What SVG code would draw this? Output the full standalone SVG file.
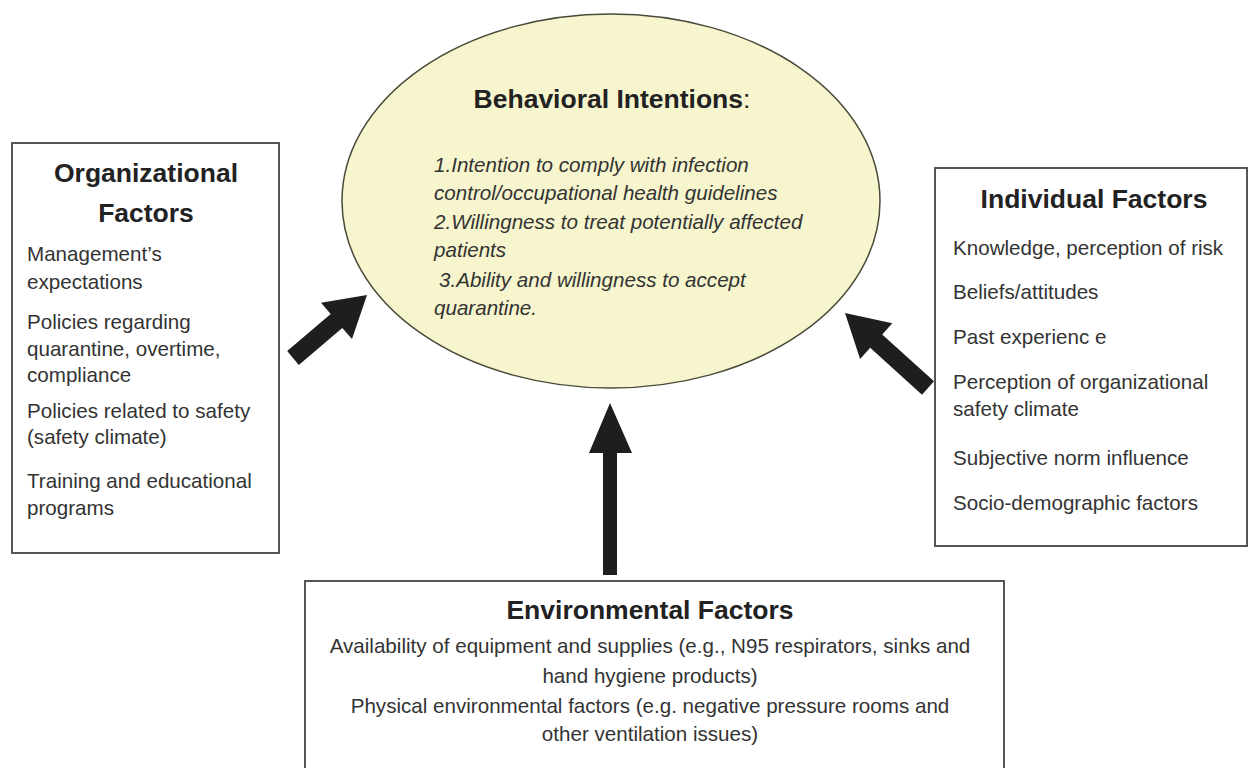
<svg xmlns="http://www.w3.org/2000/svg" width="1248" height="768" viewBox="0 0 1248 768">
<style>
.box{fill:#fff;stroke:#555;stroke-width:2}
.ell{fill:#f7f5cd;stroke:#4a4a3a;stroke-width:1.5}
.h{font-family:"Liberation Sans",Arial,sans-serif;font-weight:bold;font-size:26.5px;fill:#222}
.t{font-family:"Liberation Sans",Arial,sans-serif;font-size:20.6px;fill:#333}
.i{font-family:"Liberation Sans",Arial,sans-serif;font-size:20.6px;font-style:italic;fill:#333}
.arr{fill:#1e1e1e}
</style>
<rect width="1248" height="768" fill="#fff"/>
<g id="behavioral-intentions">
<ellipse class="ell" cx="611" cy="201" rx="269" ry="187"/>
<text class="h" x="612" y="108" text-anchor="middle">Behavioral Intentions<tspan font-weight="normal">:</tspan></text>
<text class="i" x="434" y="172">1.Intention to comply with infection</text>
<text class="i" x="434" y="200">control/occupational health guidelines</text>
<text class="i" x="434" y="229">2.Willingness to treat potentially affected</text>
<text class="i" x="434" y="257">patients</text>
<text class="i" x="439" y="287">3.Ability and willingness to accept</text>
<text class="i" x="434" y="315">quarantine.</text>
</g>
<g id="organizational-factors">
<rect class="box" x="12" y="143" width="267" height="410"/>
<text class="h" x="146" y="182" text-anchor="middle">Organizational</text>
<text class="h" x="146" y="222" text-anchor="middle">Factors</text>
<text class="t" x="27" y="261">Management’s</text>
<text class="t" x="27" y="289">expectations</text>
<text class="t" x="27" y="329">Policies regarding</text>
<text class="t" x="27" y="356">quarantine, overtime,</text>
<text class="t" x="27" y="382">compliance</text>
<text class="t" x="27" y="418">Policies related to safety</text>
<text class="t" x="27" y="444">(safety climate)</text>
<text class="t" x="27" y="488">Training and educational</text>
<text class="t" x="27" y="515">programs</text>
</g>
<g id="individual-factors">
<rect class="box" x="935" y="168" width="312" height="378"/>
<text class="h" x="1094" y="208" text-anchor="middle">Individual Factors</text>
<text class="t" x="953" y="255">Knowledge, perception of risk</text>
<text class="t" x="953" y="299">Beliefs/attitudes</text>
<text class="t" x="953" y="344">Past experienc e</text>
<text class="t" x="953" y="389">Perception of organizational</text>
<text class="t" x="953" y="416">safety climate</text>
<text class="t" x="953" y="465">Subjective norm influence</text>
<text class="t" x="953" y="510">Socio-demographic factors</text>
</g>
<g id="environmental-factors">
<rect class="box" x="305" y="581" width="699" height="200"/>
<text class="h" x="650" y="619" text-anchor="middle">Environmental Factors</text>
<text class="t" x="650" y="653" text-anchor="middle">Availability of equipment and supplies (e.g., N95 respirators, sinks and</text>
<text class="t" x="650" y="683" text-anchor="middle">hand hygiene products)</text>
<text class="t" x="650" y="713" text-anchor="middle">Physical environmental factors (e.g. negative pressure rooms and</text>
<text class="t" x="650" y="741" text-anchor="middle">other ventilation issues)</text>
</g>
<g id="connectors">
<polygon class="arr" points="367,295 352,339 342.3,327.9 298.8,364.9 287.2,351.1 330.7,314.1 321,302.7"/>
<polygon class="arr" points="845,313 892.3,323.3 882.2,334.4 934,381.3 922,394.7 870.2,347.8 860.1,358.9"/>
<polygon class="arr" points="610,403 632,453 617,453 617,575 603,575 603,453 589,453"/>
</g>
</svg>
